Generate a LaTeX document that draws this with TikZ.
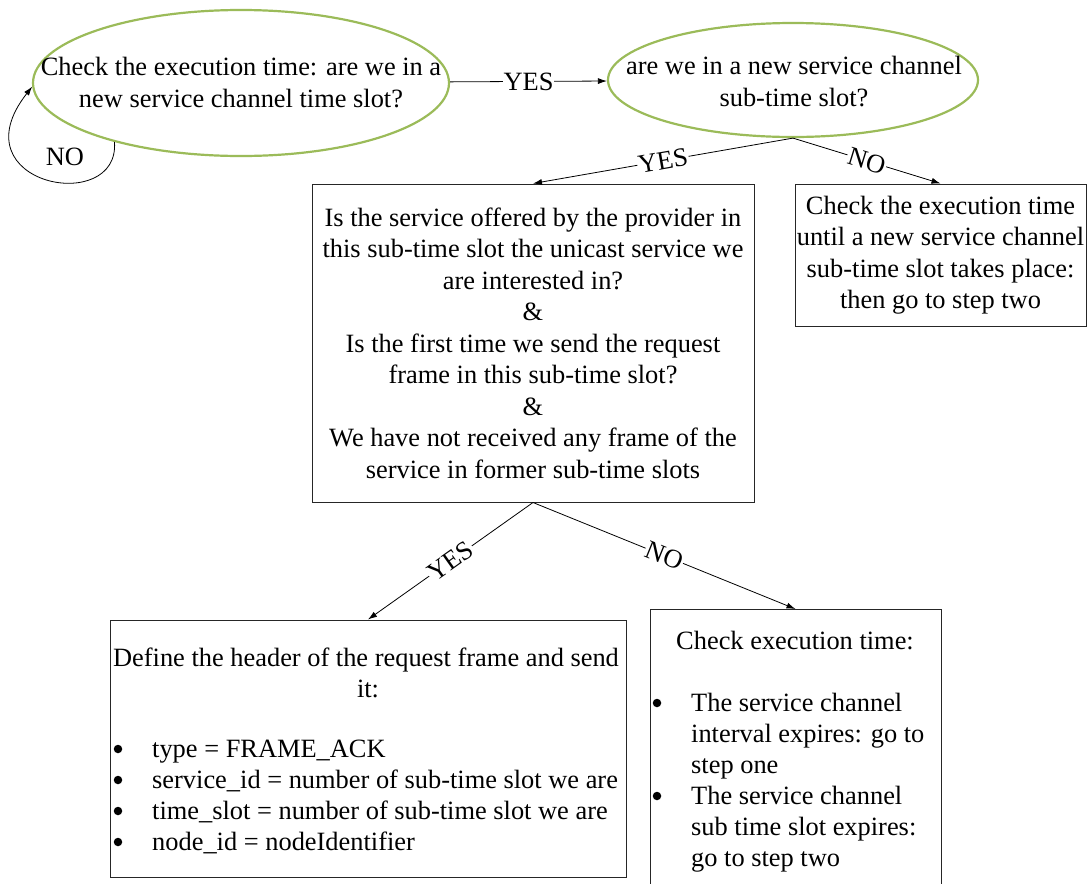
\documentclass[tikz,border=0pt]{standalone}
\usepackage{fontspec}
\setmainfont{Liberation Serif}
\usetikzlibrary{arrows.meta,shapes.geometric}
\definecolor{leafgreen}{HTML}{9BBB59}
\begin{document}
\begin{tikzpicture}[x=1pt,y=-1pt,
  every node/.style={font=\fontsize{26.4}{31.5}\selectfont},
  oval/.style={ellipse, draw=leafgreen, line width=2.2pt},
  box/.style={rectangle, draw=black!85, line width=1pt, inner sep=1pt, align=center},
  link/.style={-{Latex[length=9pt,width=6pt]}, line width=0.8pt},
  tag/.style={fill=white, inner sep=1pt, sloped},
  flat/.style={fill=white, inner sep=1pt},
  row/.style={anchor=base west, inner sep=0pt},
  dot/.style={circle, fill=black, inner sep=0pt, minimum size=8.5pt},
  head/.style={anchor=base, inner sep=0pt}
]
\useasboundingbox (0,0) rectangle (1088,884);
\clip (0,0) rectangle (1088,884);

% decision ovals
\node[oval, minimum width=416, minimum height=146] (e1) at (241,83) {};
\node[align=center, inner sep=0pt] (e1t) at (241,82.5)
  {Check the execution time: are we in a\\new service channel time slot?};
\node[oval, minimum width=370, minimum height=114] (e2) at (793,80) {};
\node[align=center, inner sep=0pt] (e2t) at (794,81.5)
  {are we in a new service channel\\sub-time slot?};

% condition boxes
\node[box, minimum width=442, minimum height=318] (b1) at (533,343)
  {Is the service offered by the provider in\\this sub-time slot the unicast service we\\are interested in?\\\&\\Is the first time we send the request\\frame in this sub-time slot?\\\&\\We have not received any frame of the\\service in former sub-time slots};
\node[box, minimum width=291, minimum height=142] (b2) at (940.5,255)
  {Check the execution time\\until a new service channel\\sub-time slot takes place:\\then go to step two};
\node[box, minimum width=516, minimum height=257] (b3) at (368,748.5) {};
\node[box, minimum width=291, minimum height=320, anchor=north] (b4) at (795.5,609) {};

% request frame box contents
\node[head] (b3h1) at (366,666) {Define the header of the request frame and send};
\node[head] (b3h2) at (368,697) {it:};
\node[dot] (b3d1) at (118,749) {};
\node[dot] (b3d2) at (118,780) {};
\node[dot] (b3d3) at (118,811) {};
\node[dot] (b3d4) at (118,842) {};
\node[row] (b3r1) at (152,757) {type = FRAME\_ACK};
\node[row] (b3r2) at (152,788) {service\_id = number of sub-time slot we are};
\node[row] (b3r3) at (152,819) {time\_slot = number of sub-time slot we are};
\node[row] (b3r4) at (152,850) {node\_id = nodeIdentifier};

% execution time box contents
\node[head] (b4h) at (795,649) {Check execution time:};
\node[dot] (b4d1) at (657,703) {};
\node[dot] (b4d2) at (657,796) {};
\node[row] (b4r1) at (691,711) {The service channel};
\node[row] (b4r2) at (691,742) {interval expires: go to};
\node[row] (b4r3) at (691,773) {step one};
\node[row] (b4r4) at (691,804) {The service channel};
\node[row] (b4r5) at (691,835) {sub time slot expires:};
\node[row] (b4r6) at (691,866) {go to step two};

% connectors
\draw[link] (e1) -- node[flat] (yes1) {YES} (e2);
\draw[link] (e1.205) .. controls (120,216) and (-45,185) .. (e1.181);
\node (noloop) at (65,157) {NO};
\draw[link] (e2.south) -- node[tag] (yes2) {YES} (b1.north);
\draw[link] (e2.south) -- node[tag] (no2) {NO} (b2.north);
\draw[link] (b1.south) -- node[tag] (yes3) {YES} (b3.north);
\draw[link] (b1.south) -- node[tag] (no3) {NO} (b4.north);
\end{tikzpicture}
\end{document}
